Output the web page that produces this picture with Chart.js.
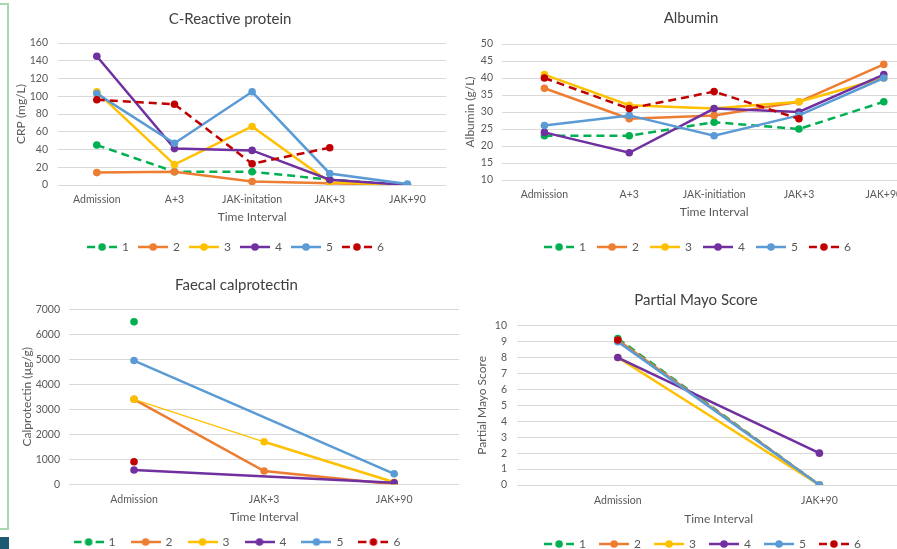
<!DOCTYPE html>
<html>
<head>
<meta charset="utf-8">
<script src="https://cdn.jsdelivr.net/npm/chart.js@4.4.1/dist/chart.umd.min.js"></script>
<style>
  html, body { margin: 0; padding: 0; background: #fff; }
  body { width: 897px; height: 549px; position: relative; overflow: hidden; }
  .panel { position: absolute; }
  .side-frame { position: absolute; left: -12px; top: 3px; width: 17px; height: 523px; border: 2px solid #a6d8b2; }
  .corner { position: absolute; left: 0; top: 537px; width: 9px; height: 12px; background: #1b5a70; }
</style>
</head>
<body>
<div class="side-frame"></div>
<div class="corner"></div>
<div class="panel" style="left:10px;top:0;width:440px;height:263px"><canvas id="crp"></canvas></div>
<div class="panel" style="left:452px;top:0;width:478px;height:263px"><canvas id="albumin"></canvas></div>
<div class="panel" style="left:10px;top:262px;width:453px;height:296px"><canvas id="calpro"></canvas></div>
<div class="panel" style="left:468px;top:275px;width:456px;height:285px"><canvas id="mayo"></canvas></div>
<script>
// Series shared by all four panels
const seriesNames = ['1', '2', '3', '4', '5', '6'];
const seriesColors = ['#00B050', '#ED7D31', '#FFC000', '#7030A0', '#5B9BD5', '#C00000'];
const dashedSeries = [true, false, false, false, false, true];

// C-Reactive protein
const crpLabels = ['Admission', 'A+3', 'JAK-initation', 'JAK+3', 'JAK+90'];
const crpValues = [
    [45, 15, 15, 6, 0],
    [14, 15, 4, 2, 0],
    [105, 23, 66, 3, 0],
    [145, 41, 39, 6, 0],
    [103, 47, 105, 13, 1],
    [96, 91, 24, 42, null]
];

// Albumin
const albuminLabels = ['Admission', 'A+3', 'JAK-initiation', 'JAK+3', 'JAK+90'];
const albuminValues = [
    [23, 23, 27, 25, 33],
    [37, 28, 29, 33, 44],
    [41, 32, 31, 33, 40],
    [24, 18, 31, 30, 41],
    [26, 29, 23, 29, 40],
    [40, 31, 36, 28, null]
];

// Faecal calprotectin
const calproLabels = ['Admission', 'JAK+3', 'JAK+90'];
const calproValues = [
    [6500, null, null],
    [3400, 530, 0],
    [3400, 1700, 80],
    [570, null, 60],
    [4950, null, 420],
    [900, null, null]
];

// Partial Mayo Score
const mayoLabels = ['Admission', 'JAK+90'];
const mayoValues = [
    [9.2, 0],
    [9.1, 0],
    [8, 0],
    [8, 2],
    [9, 0],
    [9.1, null]
];

const FONT = 'Lato, "Open Sans", sans-serif';
const TEXT = '#595959';
const GRID = '#D9D9D9';

// little line + marker picture for the legend, like Excel
function legendSwatch(color, dashed) {
    const c = document.createElement('canvas');
    c.width = 30;
    c.height = 10;
    const g = c.getContext('2d');
    g.strokeStyle = color;
    g.fillStyle = color;
    g.lineWidth = 2.5;
    g.beginPath();
    if (dashed) {
        g.moveTo(0, 5); g.lineTo(8, 5);
        g.moveTo(22, 5); g.lineTo(30, 5);
    } else {
        g.moveTo(0, 5); g.lineTo(30, 5);
    }
    g.stroke();
    g.beginPath();
    g.arc(15, 5, 3.8, 0, Math.PI * 2);
    g.fill();
    return c;
}
const swatches = seriesColors.map((c, i) => legendSwatch(c, dashedSeries[i]));

// nudges the centred legend row sideways
const legendShift = {
    id: 'legendShift',
    afterLayout(chart, args, opts) {
        if (!opts.dx || !chart.legend) return;
        chart.legend.left += opts.dx;
        chart.legend.right += opts.dx;
    }
};

function buildDatasets(values, p) {
    return values.map((data, i) => ({
        label: seriesNames[i],
        data,
        borderColor: seriesColors[i],
        backgroundColor: seriesColors[i],
        borderWidth: 2.5,
        borderDash: dashedSeries[i] ? [8, 5] : [],
        pointRadius: 3.8,
        pointHoverRadius: 3.8,
        pointBorderWidth: 0,
        spanGaps: !!p.spanGaps,
        segment: p.segmentWidth ? { borderWidth: c => p.segmentWidth(c, i) } : undefined,
        order: values.length - i,   // later series drawn on top
        tension: 0
    }));
}

function drawPanel(id, p) {
    new Chart(document.getElementById(id), {
        type: 'line',
        data: { labels: p.labels, datasets: buildDatasets(p.values, p) },
        plugins: [legendShift],
        options: {
            responsive: true,
            maintainAspectRatio: false,
            animation: false,
            layout: { padding: 0 },
            plugins: {
                legendShift: { dx: p.legendDx || 0 },
                title: {
                    display: true,
                    text: p.title,
                    color: '#404040',
                    font: { family: FONT, size: 15, lineHeight: 1.2, weight: 'normal' },
                    padding: { top: p.titleTop, bottom: p.titleBottom }
                },
                legend: {
                    position: 'bottom',
                    labels: {
                        usePointStyle: true,
                        pointStyleWidth: 28,
                        padding: p.legendGap + 2,
                        color: TEXT,
                        font: { family: FONT, size: 12 },
                        sort: (a, b) => a.datasetIndex - b.datasetIndex,
                        generateLabels(chart) {
                            const items = Chart.defaults.plugins.legend.labels.generateLabels(chart);
                            items.forEach(it => { it.pointStyle = swatches[it.datasetIndex]; });
                            return items;
                        }
                    }
                },
                tooltip: { enabled: false }
            },
            scales: {
                x: {
                    offset: true,
                    grid: { display: false, drawTicks: false },
                    border: { display: false },
                    ticks: {
                        color: TEXT,
                        font: { family: FONT, size: 10.5 },
                        padding: p.xTickPad,
                        maxRotation: 0,
                        autoSkip: false
                    },
                    title: {
                        display: true,
                        text: 'Time Interval',
                        color: TEXT,
                        font: { family: FONT, size: 12, lineHeight: 1 },
                        padding: { top: 0, bottom: p.xTitlePad }
                    },
                    afterFit: s => { s.height = p.xAxisH; }
                },
                y: {
                    min: p.yMin,
                    max: p.yMax,
                    grid: { color: GRID, lineWidth: 1, drawTicks: false },
                    border: { display: false },
                    ticks: {
                        stepSize: p.yStep,
                        color: TEXT,
                        font: { family: FONT, size: 10.5 },
                        padding: p.yTickPad,
                        callback: v => String(v)
                    },
                    title: {
                        display: true,
                        text: p.yTitle,
                        color: TEXT,
                        font: { family: FONT, size: 12, lineHeight: 1 },
                        padding: { top: p.yTitlePad, bottom: 0 }
                    },
                    afterFit: s => { s.width = p.yAxisW; }
                }
            }
        }
    });
}

drawPanel('crp', {
    title: 'C-Reactive protein', yTitle: 'CRP (mg/L)',
    labels: crpLabels, values: crpValues,
    yMin: 0, yMax: 160, yStep: 20,
    titleTop: 10, titleBottom: 15, legendGap: 8, legendDx: 6,
    xAxisH: 46, xTickPad: 8, xTitlePad: 7.5,
    yAxisW: 48, yTickPad: 10, yTitlePad: 5.5
});

drawPanel('albumin', {
    title: 'Albumin', yTitle: 'Albumin (g/L)',
    labels: albuminLabels, values: albuminValues,
    yMin: 10, yMax: 50, yStep: 5,
    titleTop: 9, titleBottom: 17, legendGap: 10, legendDx: 7,
    xAxisH: 49, xTickPad: 8, xTitlePad: 10.5,
    yAxisW: 50, yTickPad: 9, yTitlePad: 12.5
});

drawPanel('calpro', {
    title: 'Faecal calprotectin', yTitle: 'Calprotectin (µg/g)',
    labels: calproLabels, values: calproValues,
    yMin: 0, yMax: 7000, yStep: 1000,
    titleTop: 14, titleBottom: 15.3, legendGap: 14, legendDx: 1,
    xAxisH: 35.7, xTickPad: 9.5, xTitlePad: -3.2,
    yAxisW: 59, yTickPad: 9, yTitlePad: 11.5,
    spanGaps: true,
    // gap-spanning links and the first yellow link are drawn thin
    segmentWidth: (c, i) => (c.p1DataIndex - c.p0DataIndex > 1 || (i === 2 && c.p0DataIndex === 0)) ? 1.3 : 2.5
});

drawPanel('mayo', {
    title: 'Partial Mayo Score', yTitle: 'Partial Mayo Score',
    labels: mayoLabels, values: mayoValues,
    yMin: 0, yMax: 10, yStep: 1,
    titleTop: 16, titleBottom: 16.7, legendGap: 12, legendDx: 7,
    xAxisH: 39, xTickPad: 9, xTitlePad: -1.5,
    yAxisW: 49, yTickPad: 10, yTitlePad: 8.5
});
</script>
</body>
</html>
